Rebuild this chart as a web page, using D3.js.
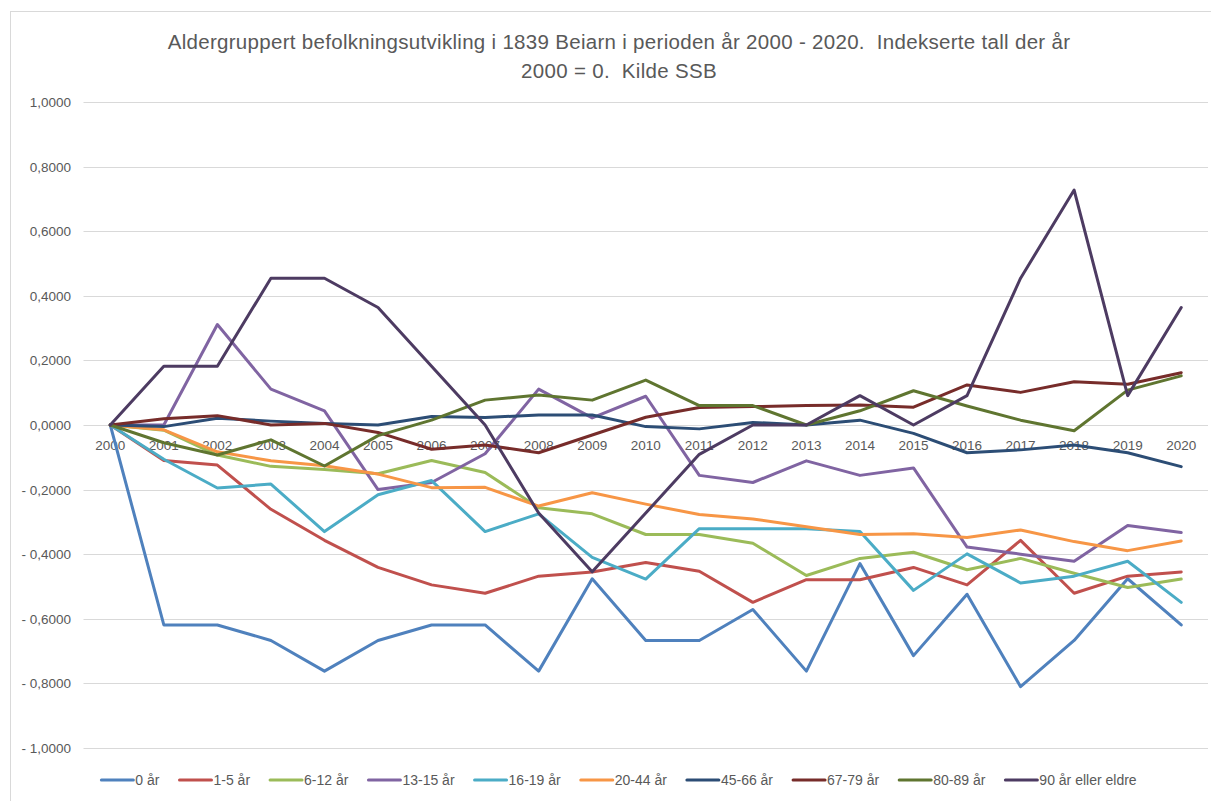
<!DOCTYPE html>
<html>
<head>
  <meta charset="utf-8">
  <title>Aldergruppert befolkningsutvikling Beiarn</title>
  <script src="https://d3js.org/d3.v7.min.js"></script>
  <style>
    body {
      margin: 0;
      padding: 0;
      background: white;
    }
    svg {
      display: block;
      font-family: 'Liberation Sans', Arial, sans-serif;
    }
    .title {
      font-size: 20.5px;
      letter-spacing: 0.3px;
      fill: #595959;
      white-space: pre;
    }
    .tick-label {
      font-size: 13.5px;
      fill: #595959;
    }
    .legend-label {
      font-size: 14px;
      fill: #595959;
    }
  </style>
</head>
<body>
  <svg id="chart" width="1211" height="801"></svg>

  <script>
    const years = ["2000", "2001", "2002", "2003", "2004", "2005", "2006", "2007", "2008", "2009", "2010",
                   "2011", "2012", "2013", "2014", "2015", "2016", "2017", "2018", "2019", "2020"];

    const seriesNames = ["0 år", "1-5 år", "6-12 år", "13-15 år", "16-19 år", "20-44 år",
                         "45-66 år", "67-79 år", "80-89 år", "90 år eller eldre"];

    const seriesColors = ["#4F81BD", "#C0504D", "#9BBB59", "#8064A2", "#4BACC6", "#F79646",
                          "#2C4D75", "#772C2A", "#5F7530", "#4D3B62"];

    const yTicks = [1, 0.8, 0.6, 0.4, 0.2, 0, -0.2, -0.4, -0.6, -0.8, -1];

    // indekserte tall, 2000 = 0
    const aar0 = [0, -0.619, -0.619, -0.667, -0.762, -0.667, -0.619, -0.619, -0.762, -0.476, -0.667,
                  -0.667, -0.571, -0.762, -0.429, -0.714, -0.524, -0.810, -0.667, -0.476, -0.619];
    const aar1_5 = [0, -0.110, -0.124, -0.261, -0.357, -0.441, -0.495, -0.521, -0.468, -0.455, -0.426,
                    -0.453, -0.549, -0.479, -0.479, -0.441, -0.495, -0.357, -0.521, -0.468, -0.455];
    const aar6_12 = [0, -0.016, -0.093, -0.128, -0.138, -0.151, -0.110, -0.147, -0.256, -0.275, -0.339,
                     -0.339, -0.366, -0.466, -0.413, -0.394, -0.448, -0.413, -0.459, -0.503, -0.477];
    const aar13_15 = [0, 0, 0.311, 0.111, 0.044, -0.200, -0.178, -0.089, 0.111, 0.022, 0.089,
                      -0.156, -0.178, -0.111, -0.156, -0.133, -0.378, -0.400, -0.422, -0.311, -0.333];
    const aar16_19 = [0, -0.106, -0.195, -0.183, -0.330, -0.216, -0.172, -0.330, -0.275, -0.410, -0.477,
                      -0.321, -0.321, -0.321, -0.330, -0.512, -0.399, -0.489, -0.468, -0.422, -0.549];
    const aar20_44 = [0, -0.015, -0.083, -0.111, -0.126, -0.152, -0.194, -0.193, -0.251, -0.210, -0.245,
                      -0.277, -0.291, -0.315, -0.339, -0.337, -0.348, -0.325, -0.361, -0.389, -0.359];
    const aar45_66 = [0, -0.005, 0.021, 0.012, 0.005, 0, 0.026, 0.023, 0.031, 0.031, -0.005,
                      -0.012, 0.008, 0, 0.015, -0.026, -0.086, -0.077, -0.062, -0.086, -0.129];
    const aar67_79 = [0, 0.019, 0.029, 0, 0.005, -0.023, -0.075, -0.062, -0.086, -0.031, 0.024,
                      0.054, 0.057, 0.060, 0.062, 0.055, 0.124, 0.101, 0.134, 0.126, 0.162];
    const aar80_89 = [0, -0.055, -0.093, -0.046, -0.127, -0.033, 0.015, 0.077, 0.093, 0.077, 0.139,
                      0.060, 0.060, 0, 0.044, 0.106, 0.059, 0.015, -0.018, 0.108, 0.152];
    const aar90 = [0, 0.1818, 0.1818, 0.4545, 0.4545, 0.3636, 0.1818, 0, -0.2727, -0.4545, -0.2727,
                   -0.0909, 0, 0, 0.0909, 0, 0.0909, 0.4545, 0.7273, 0.0909, 0.3636];

    const seriesValues = [aar0, aar1_5, aar6_12, aar13_15, aar16_19, aar20_44, aar45_66, aar67_79, aar80_89, aar90];

    const svg = d3.select("#chart");

    // ytre ramme
    svg.append("rect")
      .attr("x", 10.5).attr("y", 11.5)
      .attr("width", 1240).attr("height", 820)
      .attr("fill", "white")
      .attr("stroke", "#d9d9d9")
      .attr("stroke-width", 1);

    const x = d3.scalePoint().domain(years).range([83.5, 1208]).padding(0.5);
    const y = d3.scaleLinear().domain([-1, 1]).range([748, 102]);

    // tittel
    const title = svg.append("text").attr("class", "title").attr("text-anchor", "middle");
    title.append("tspan").attr("x", 619).attr("y", 49)
      .text("Aldergruppert befolkningsutvikling i 1839 Beiarn i perioden år 2000 - 2020.  Indekserte tall der år");
    title.append("tspan").attr("x", 619).attr("y", 78)
      .text("2000 = 0.  Kilde SSB");

    // rutenett
    svg.append("g")
      .selectAll("line")
      .data(yTicks)
      .join("line")
      .attr("x1", 83.5).attr("x2", 1208)
      .attr("y1", d => Math.round(y(d)) + 0.5)
      .attr("y2", d => Math.round(y(d)) + 0.5)
      .attr("stroke", "#d9d9d9")
      .attr("stroke-width", 1);

    const fmt = v => (v < 0 ? "- " : "") + Math.abs(v).toFixed(4).replace(".", ",");

    svg.append("g")
      .selectAll("text")
      .data(yTicks)
      .join("text")
      .attr("class", "tick-label")
      .attr("x", 71)
      .attr("y", d => y(d) + 5)
      .attr("text-anchor", "end")
      .text(fmt);

    // kategoriakse (ved 0)
    svg.append("g")
      .selectAll("text")
      .data(years)
      .join("text")
      .attr("class", "tick-label")
      .attr("x", d => x(d))
      .attr("y", y(0) + 25)
      .attr("text-anchor", "middle")
      .text(d => d);

    // linjer
    const line = d3.line()
      .x((d, i) => x(years[i]))
      .y(d => y(d));

    svg.append("g")
      .selectAll("path")
      .data(seriesValues)
      .join("path")
      .attr("d", line)
      .attr("fill", "none")
      .attr("stroke", (d, i) => seriesColors[i])
      .attr("stroke-width", 3)
      .attr("stroke-linejoin", "round")
      .attr("stroke-linecap", "round");

    // tegnforklaring
    const legend = svg.append("g");
    const swatch = 32, gapText = 2, gapItem = 20;
    const items = legend.selectAll("g")
      .data(seriesNames)
      .join("g");

    items.append("line")
      .attr("x1", 0).attr("x2", swatch)
      .attr("y1", 0).attr("y2", 0)
      .attr("stroke", (d, i) => seriesColors[i])
      .attr("stroke-width", 3)
      .attr("stroke-linecap", "round");

    items.append("text")
      .attr("class", "legend-label")
      .attr("x", swatch + gapText)
      .attr("y", 5)
      .text(d => d);

    let offset = 0;
    const widths = [];
    items.each(function () {
      const w = this.querySelector("text").getComputedTextLength();
      widths.push(swatch + gapText + w);
    });
    const total = d3.sum(widths) + gapItem * (widths.length - 1);
    const startX = 619 - total / 2;
    items.attr("transform", (d, i) => {
      const tx = startX + offset;
      offset += widths[i] + gapItem;
      return `translate(${tx},780)`;
    });
  </script>
</body>
</html>
